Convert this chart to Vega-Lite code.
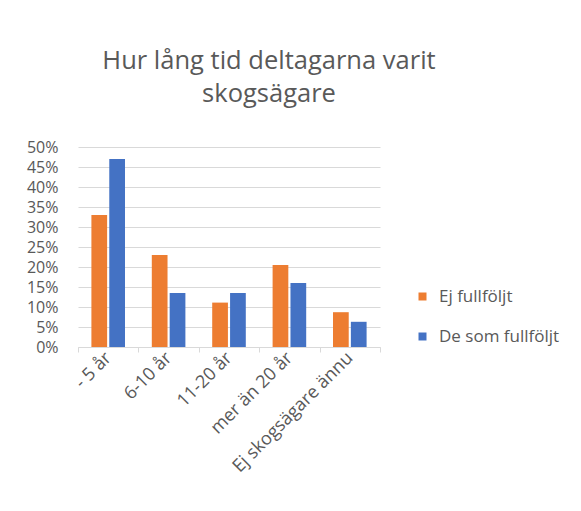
{
  "$schema": "https://vega.github.io/schema/vega-lite/v6.json",
  "width": 302,
  "height": 200,
  "autosize": {"type": "none"},
  "padding": {"left": 78, "top": 147, "right": 201, "bottom": 164},
  "background": "white",
  "title": {
    "text": ["Hur lång tid deltagarna varit", "skogsägare"],
    "font": "Open Sans",
    "fontSize": 25.5,
    "fontWeight": "normal",
    "color": "#595959",
    "anchor": "middle",
    "dx": 40,
    "offset": 32,
    "lineHeight": 33
  },
  "data": {
    "values": [
      {"kategori": "- 5 år", "grupp": "Ej fullföljt", "andel": 0.33},
      {"kategori": "- 5 år", "grupp": "De som fullföljt", "andel": 0.47},
      {"kategori": "6-10 år", "grupp": "Ej fullföljt", "andel": 0.23},
      {"kategori": "6-10 år", "grupp": "De som fullföljt", "andel": 0.135},
      {"kategori": "11-20 år", "grupp": "Ej fullföljt", "andel": 0.111},
      {"kategori": "11-20 år", "grupp": "De som fullföljt", "andel": 0.135},
      {"kategori": "mer än 20 år", "grupp": "Ej fullföljt", "andel": 0.205},
      {"kategori": "mer än 20 år", "grupp": "De som fullföljt", "andel": 0.16},
      {"kategori": "Ej skogsägare ännu", "grupp": "Ej fullföljt", "andel": 0.087},
      {"kategori": "Ej skogsägare ännu", "grupp": "De som fullföljt", "andel": 0.063}
    ]
  },
  "mark": {"type": "bar"},
  "encoding": {
    "x": {
      "field": "kategori",
      "type": "nominal",
      "sort": null,
      "scale": {"paddingInner": 0, "paddingOuter": 0},
      "axis": {
        "title": null,
        "labelAngle": -45,
        "labelAlign": "right",
        "labelBaseline": "middle",
        "labelFont": "Open Sans",
        "labelFontSize": 18,
        "labelColor": "#595959",
        "labelPadding": 3,
        "tickBand": "extent",
        "tickColor": "#d9d9d9",
        "tickSize": 5,
        "domainColor": "#d9d9d9",
        "grid": false
      }
    },
    "xOffset": {
      "field": "grupp",
      "type": "nominal",
      "sort": ["Ej fullföljt", "De som fullföljt"],
      "scale": {"paddingInner": 0.12, "paddingOuter": 0.75}
    },
    "y": {
      "field": "andel",
      "type": "quantitative",
      "scale": {"domain": [0, 0.5], "nice": false},
      "axis": {
        "title": null,
        "format": ".0%",
        "values": [0, 0.05, 0.1, 0.15, 0.2, 0.25, 0.3, 0.35, 0.4, 0.45, 0.5],
        "labelFont": "Open Sans",
        "labelFontSize": 16,
        "labelColor": "#595959",
        "labelPadding": 20,
        "domain": false,
        "ticks": false,
        "gridColor": "#d9d9d9",
        "gridWidth": 1
      }
    },
    "color": {
      "field": "grupp",
      "type": "nominal",
      "sort": ["Ej fullföljt", "De som fullföljt"],
      "scale": {"domain": ["Ej fullföljt", "De som fullföljt"], "range": ["#ED7D31", "#4472C4"]},
      "legend": {
        "title": null,
        "orient": "none",
        "legendX": 336,
        "legendY": 141,
        "symbolType": "square",
        "symbolSize": 64,
        "symbolStrokeWidth": 0,
        "labelFont": "Open Sans",
        "labelFontSize": 17,
        "labelColor": "#595959",
        "labelOffset": 8,
        "rowPadding": 22
      }
    }
  },
  "config": {
    "view": {"stroke": null}
  }
}
